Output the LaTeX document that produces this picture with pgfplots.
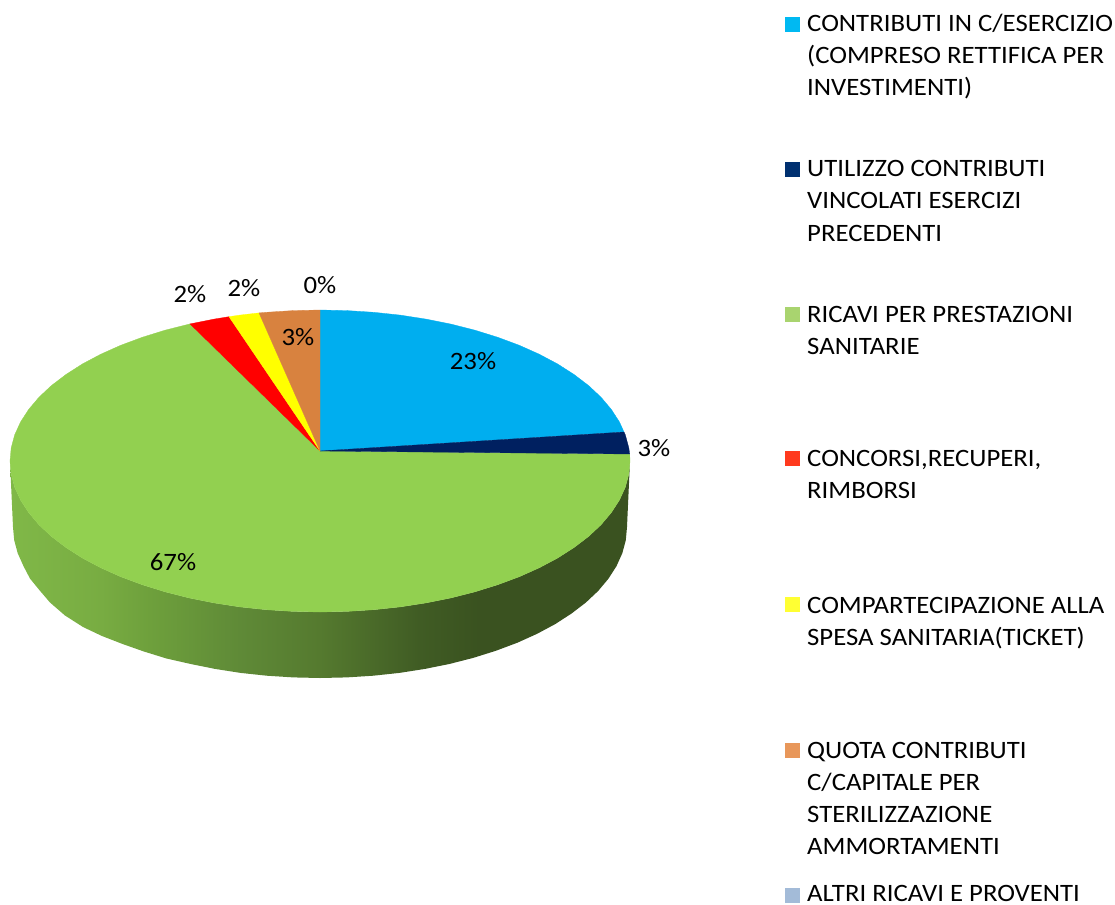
\documentclass[border=0pt]{standalone}
\usepackage{pgfplots}
\pgfplotsset{compat=1.18}
\usepackage{fontspec}
\setmainfont[FakeStretch=1.07]{Carlito}
\pgfdeclarehorizontalshading{wall}{100bp}{
  rgb(0bp)=(0.502,0.722,0.282);
  rgb(25bp)=(0.502,0.722,0.282);
  rgb(32.3bp)=(0.471,0.675,0.259);
  rgb(36.3bp)=(0.431,0.627,0.235);
  rgb(43.5bp)=(0.373,0.541,0.216);
  rgb(50bp)=(0.333,0.478,0.184);
  rgb(58bp)=(0.251,0.361,0.141);
  rgb(62.8bp)=(0.227,0.322,0.125);
  rgb(100bp)=(0.227,0.322,0.125)}
\definecolor{sblue}{HTML}{00AEEF}
\definecolor{snavy}{HTML}{002060}
\definecolor{sgreen}{HTML}{92D050}
\definecolor{sred}{HTML}{FF0000}
\definecolor{syellow}{HTML}{FFFF00}
\definecolor{sorange}{HTML}{D8823F}
\definecolor{lblue}{HTML}{00B9F2}
\definecolor{lnavy}{HTML}{003070}
\definecolor{lgreen}{HTML}{A9D46F}
\definecolor{lred}{HTML}{FF3A1E}
\definecolor{lyellow}{HTML}{FFFF33}
\definecolor{lorange}{HTML}{E8975A}
\definecolor{lsteel}{HTML}{A3BBD8}
\tikzset{
  txt/.style={anchor=base west,inner sep=0pt,font=\fontsize{25}{28}\selectfont,text=black},
  pct/.style={anchor=base,inner sep=0pt,font=\fontsize{25}{28}\selectfont,text=black}}
\begin{document}
\begin{tikzpicture}
\path[use as bounding box] (0,0) rectangle (1115pt,904pt);
\begin{axis}[at={(0,0)},anchor=south west,width=1115pt,height=904pt,scale only axis,hide axis,
  xmin=0,xmax=1115,ymin=0,ymax=904,y dir=reverse,clip=false]
% side wall
\addplot[draw=none,shade,shading=wall] coordinates {
(10,461)(11.2,474.2)(14.7,487.2)(20.6,500.1)(28.7,512.6)(39,524.8)(51.5,536.5)(66.1,547.6)(82.5,558.1)(100.8,567.8)(120.7,576.7)(142.2,584.7)(165,591.8)(189,597.9)(214,602.9)(239.8,606.9)(266.2,609.7)(293,611.4)(320,612)(347,611.4)(373.8,609.7)(400.2,606.9)(426,602.9)(451,597.9)(475,591.8)(497.8,584.7)(519.3,576.7)(539.2,567.8)(557.5,558.1)(573.9,547.6)(588.5,536.5)(601,524.8)(611.3,512.6)(619.4,500.1)(625.3,487.2)(628.8,474.2)(630,461)
(627,527)(625.8,540.2)(622.3,553.2)(616.5,566.1)(608.5,578.6)(598.3,590.8)(585.9,602.5)(571.4,613.6)(555.2,624.1)(537.1,633.8)(517.4,642.7)(496.1,650.7)(473.5,657.8)(449.7,663.9)(425,668.9)(399.4,672.9)(373.3,675.7)(346.7,677.4)(320,678)(293.3,677.4)(266.7,675.7)(240.6,672.9)(215,668.9)(190.3,663.9)(166.5,658.5)(143.9,651.5)(122.6,644)(102,636)(83,627)(65,615.5)(50,602.5)(40,590.8)(30,578.6)(23.5,566.1)(17.7,553.2)(14.2,540.2)(13,527)};
% green slice
\addplot[draw=sgreen,line width=0.3pt,fill=sgreen] coordinates {
(320,451)(629.7,454)(630,461)(628.8,474.2)(625.3,487.2)(619.4,500.1)(611.3,512.6)(601,524.8)(588.5,536.5)(573.9,547.6)(557.5,558.1)(539.2,567.8)(519.3,576.7)(497.8,584.7)(475,591.8)(451,597.9)(426,602.9)(400.2,606.9)(373.8,609.7)(347,611.4)(320,612)(293,611.4)(266.2,609.7)(239.8,606.9)(214,602.9)(189,597.9)(165,591.8)(142.2,584.7)(120.7,576.7)(100.8,567.8)(82.5,558.1)(66.1,547.6)(51.5,536.5)(39,524.8)(28.7,512.6)(20.6,500.1)(14.7,487.2)(11.2,474.2)(10,461)(11.2,447.8)(14.7,434.8)(20.6,421.9)(28.7,409.4)(39,397.2)(51.5,385.5)(66.1,374.4)(82.5,363.9)(100.8,354.2)(120.7,345.3)(142.2,337.3)(165,330.2)(190,323.9)(320,451)};
% blue slice
\addplot[draw=sblue,line width=0.3pt,fill=sblue] coordinates {
(320,451)(320,310)(347,310.6)(373.8,312.3)(400.2,315.1)(426,319.1)(451,324.1)(475,330.2)(497.8,337.3)(519.3,345.3)(539.2,354.2)(557.5,363.9)(573.9,374.4)(588.5,385.5)(601,397.2)(611.3,409.4)(619.4,421.9)(624,432)(320,451)};
% navy slice
\addplot[draw=snavy,line width=0.3pt,fill=snavy] coordinates {
(320,451)(624,432)(625.3,434.8)(628.8,447.8)(629.7,454)(320,451)};
% red slice
\addplot[draw=sred,line width=0.3pt,fill=sred] coordinates {
(320,451)(190,323.9)(214,319.1)(229,316.7)(320,451)};
% yellow slice
\addplot[draw=syellow,line width=0.3pt,fill=syellow] coordinates {
(320,451)(229,316.7)(239.8,315.1)(259,312.9)(320,451)};
% orange slice
\addplot[draw=sorange,line width=0.3pt,fill=sorange] coordinates {
(320,451)(259,312.9)(266.2,312.3)(293,310.6)(320,310)(320,451)};
% legend swatches
\addplot[draw=none,fill=lblue] coordinates {(785,17)(800,17)(800,32)(785,32)};
\addplot[draw=none,fill=lnavy] coordinates {(785,162)(800,162)(800,177)(785,177)};
\addplot[draw=none,fill=lgreen] coordinates {(785,307)(800,307)(800,322)(785,322)};
\addplot[draw=none,fill=lred] coordinates {(785,451)(800,451)(800,466)(785,466)};
\addplot[draw=none,fill=lyellow] coordinates {(785,597)(800,597)(800,612)(785,612)};
\addplot[draw=none,fill=lorange] coordinates {(785,743)(800,743)(800,758)(785,758)};
\addplot[draw=none,fill=lsteel] coordinates {(785,888)(800,888)(800,903)(785,903)};
% percentage labels
\node[pct] at (axis cs:473,369) {23\%};
\node[pct] at (axis cs:654,456) {3\%};
\node[pct] at (axis cs:173,570) {67\%};
\node[pct] at (axis cs:190,302) {2\%};
\node[pct] at (axis cs:244,296) {2\%};
\node[pct] at (axis cs:320,293) {0\%};
\node[pct] at (axis cs:298,345) {3\%};
% legend text
\node[txt] at (axis cs:807,32) {CONTRIBUTI IN C/ESERCIZIO};
\node[txt] at (axis cs:807,64) {(COMPRESO RETTIFICA PER};
\node[txt] at (axis cs:807,96) {INVESTIMENTI)};
\node[txt] at (axis cs:807,176) {UTILIZZO CONTRIBUTI};
\node[txt] at (axis cs:807,208) {VINCOLATI ESERCIZI};
\node[txt] at (axis cs:807,241) {PRECEDENTI};
\node[txt] at (axis cs:807,322) {RICAVI PER PRESTAZIONI};
\node[txt] at (axis cs:807,354) {SANITARIE};
\node[txt] at (axis cs:807,466) {CONCORSI,RECUPERI,};
\node[txt] at (axis cs:807,498) {RIMBORSI};
\node[txt] at (axis cs:807,613) {COMPARTECIPAZIONE ALLA};
\node[txt] at (axis cs:807,645) {SPESA SANITARIA(TICKET)};
\node[txt] at (axis cs:807,758) {QUOTA CONTRIBUTI};
\node[txt] at (axis cs:807,790) {C/CAPITALE PER};
\node[txt] at (axis cs:807,822) {STERILIZZAZIONE};
\node[txt] at (axis cs:807,854) {AMMORTAMENTI};
\node[txt] at (axis cs:807,901) {ALTRI RICAVI E PROVENTI};
\end{axis}
\end{tikzpicture}
\end{document}
